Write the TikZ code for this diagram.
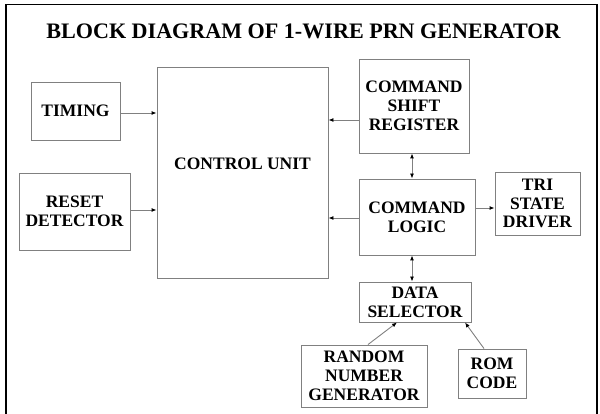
\documentclass[tikz,border=0pt]{standalone}
\usepackage{fontspec}
\setmainfont{Liberation Serif}
\usetikzlibrary{arrows.meta}
\tikzset{
  lbl/.style={font=\fontsize{17.5}{18.8}\selectfont\bfseries},
  blk/.style={lbl, draw=black!50, line width=0.9pt, inner sep=0pt, align=center},
  arr/.style={draw=black!50, line width=0.9pt, -{Latex[black,length=5pt,width=4pt]}},
  dbl/.style={draw=black!50, line width=0.9pt, {Latex[black,length=5pt,width=4pt]}-{Latex[black,length=5pt,width=4pt]}},
}
\begin{document}
\begin{tikzpicture}[x=1pt,y=-1pt]
\useasboundingbox (0,0) rectangle (600,414);
\draw[line width=1.4pt] (6,414) -- (6,4.5) -- (597,4.5) -- (597,414);
\node[font=\fontsize{22.1}{25}\selectfont\bfseries] (title) at (303.5,31) {BLOCK DIAGRAM OF 1-WIRE PRN GENERATOR};
\node[blk, minimum width=89, minimum height=58] (tim) at (75.5,111) {TIMING};
\node[blk, minimum width=111, minimum height=77] (rst) at (74.5,211.5) {RESET\\DETECTOR};
\node[blk, minimum width=171, minimum height=211] (cu) at (242.5,172.5) {};
\node[lbl] (cut) at (242.5,164) {CONTROL UNIT};
\node[blk, minimum width=110, minimum height=94] (csr) at (414,106) {COMMAND\\SHIFT\\REGISTER};
\node[blk, minimum width=116, minimum height=76] (cl) at (417,217) {COMMAND\\LOGIC};
\node[blk, minimum width=85, minimum height=63] (tsd) at (537.5,203.5) {TRI\\STATE\\DRIVER};
\node[blk, minimum width=112, minimum height=40] (ds) at (415,302) {DATA\\SELECTOR};
\node[blk, minimum width=126, minimum height=62] (rng) at (364,376) {RANDOM\\NUMBER\\GENERATOR};
\node[blk, minimum width=68, minimum height=49] (rom) at (492,373.5) {ROM\\CODE};
\draw[arr] (tim.east |- 0,113) -- (cu.west |- 0,113);
\draw[arr] (rst.east |- 0,210) -- (cu.west |- 0,210);
\draw[arr] (csr.west |- 0,120) -- (cu.east |- 0,120);
\draw[arr] (cl.west |- 0,218) -- (cu.east |- 0,218);
\draw[arr] (cl.east |- 0,208) -- (tsd.west |- 0,208);
\draw[dbl] (csr.south -| 412,0) -- (cl.north -| 412,0);
\draw[dbl] (cl.south -| 412,0) -- (ds.north -| 412,0);
\draw[arr] (rng.north -| 368,0) -- (ds.south -| 397,0);
\draw[arr] (rom.north -| 484,0) -- (ds.south -| 465,0);
\end{tikzpicture}
\end{document}
